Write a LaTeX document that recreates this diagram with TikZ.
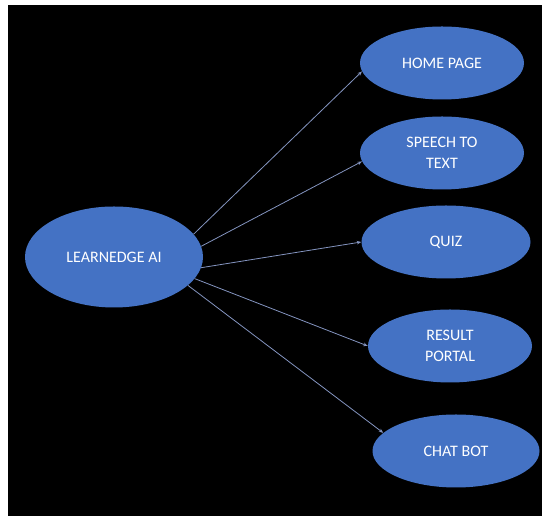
\documentclass[tikz,border=0pt]{standalone}
\usepackage{fontspec}
\setmainfont{Carlito}
\usetikzlibrary{shapes.geometric,arrows.meta}
\definecolor{bubbleblue}{HTML}{4472C4}
\definecolor{linkblue}{HTML}{8494C0}
\begin{document}
\begin{tikzpicture}[
        x=1pt, y=1pt,
        % --- Node styles ---
        hub/.style={
            ellipse, fill=bubbleblue, draw=none,
            minimum width=178pt, minimum height=101pt,
            inner sep=0pt, text=white, font=\fontsize{16}{19}\selectfont
        },
        feature/.style={
            ellipse, fill=bubbleblue, draw=none,
            minimum width=164pt, minimum height=73pt,
            inner sep=0pt, align=center, text=white,
            font=\fontsize{16}{21}\selectfont
        },
        link/.style={linkblue, line width=0.8pt, -{Stealth[length=4.5pt, width=3.5pt]}},
    ]

    % ===== Page and background =====
    \useasboundingbox[fill=white] (0, 0) rectangle (542, 516);
    \fill[black] (8, 0) rectangle (542, 511);

    % ===== Centre node =====
    \node[hub] (learn) at (114, 259) {LEARNEDGE AI};

    % ===== Feature nodes =====
    \node[feature] (home)   at (442, 453) {HOME PAGE};
    \node[feature] (speech) at (442, 363) {SPEECH TO\\TEXT};
    \node[feature, minimum width=169pt] (quiz) at (446, 274) {QUIZ};
    \node[feature] (result) at (450, 170) {RESULT\\PORTAL};
    \node[feature, minimum width=167pt] (chat)   at (456, 65)  {CHAT BOT};

    % ===== Links =====
    \draw[link] (learn.16)  -- (home.186);
    \draw[link] (learn.7)   -- (speech.186);
    \draw[link] (learn.-7)  -- (quiz.180);
    \draw[link] (learn.-15) -- (result.180);
    \draw[link] (learn.-21) -- (chat.166);

\end{tikzpicture}
\end{document}
